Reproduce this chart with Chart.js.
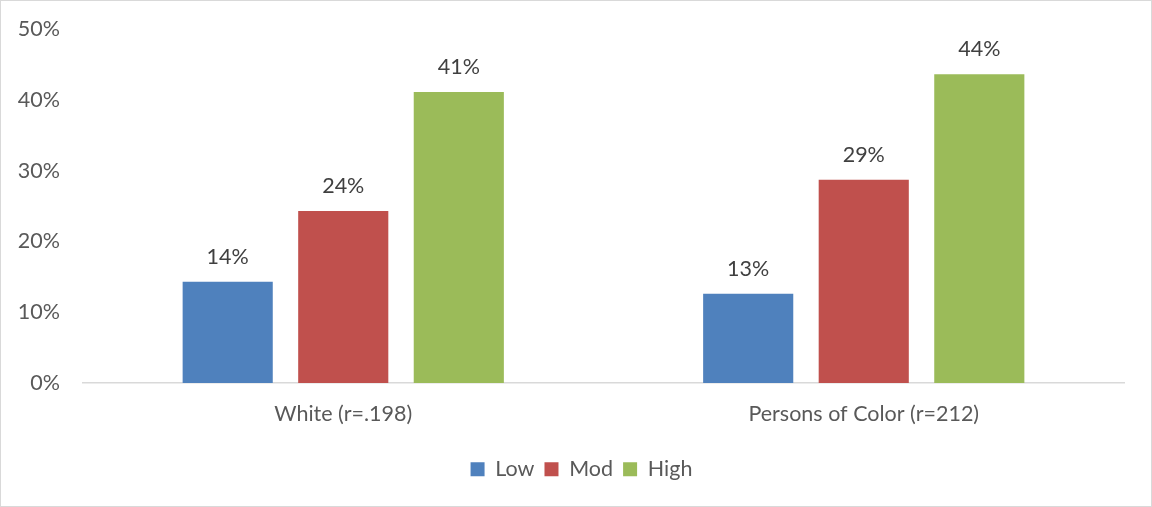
<!DOCTYPE html>
<html>
<head>
<meta charset="utf-8">
<script src="https://cdn.jsdelivr.net/npm/chart.js@4"></script>
<style>
  html, body { margin: 0; padding: 0; background: #fff; }
  #wrap { width: 1152px; height: 507px; box-sizing: border-box; border: 1px solid #d9d9d9; }
</style>
</head>
<body>
<div id="wrap"><canvas id="chart" width="1150" height="505"></canvas></div>
<script>
const categories = ["White (r=.198)", "Persons of Color (r=212)"];
const lowValues = [14.3, 12.6];
const modValues = [24.3, 28.7];
const highValues = [41.1, 43.6];
const yTicks = [0, 10, 20, 30, 40, 50];

const FONT = "Lato, 'Open Sans', sans-serif";
const FONT_SIZE = 21.5;

// value labels above each bar
const barLabels = {
    id: "barLabels",
    afterLayout(chart) {
        // legend sits a little right of centre in the original
        chart.legend.left += 19;
        chart.legend.right += 19;
    },
    afterDatasetsDraw(chart) {
        const ctx = chart.ctx;
        ctx.save();
        ctx.font = FONT_SIZE + "px " + FONT;
        ctx.fillStyle = "#404040";
        ctx.textAlign = "center";
        ctx.textBaseline = "middle";
        chart.data.datasets.forEach((ds, i) => {
            chart.getDatasetMeta(i).data.forEach((bar, j) => {
                ctx.fillText(Math.round(ds.data[j]) + "%", bar.x, bar.y - 25);
            });
        });
        ctx.restore();
    }
};

window.myChart = new Chart(document.getElementById("chart").getContext("2d"), {
    type: "bar",
    data: {
        labels: categories,
        datasets: [
            { label: "Low", data: lowValues, backgroundColor: "#4f81bd" },
            { label: "Mod", data: modValues, backgroundColor: "#c0504d" },
            { label: "High", data: highValues, backgroundColor: "#9bbb59" }
        ]
    },
    options: {
        responsive: false,
        animation: false,
        categoryPercentage: 0.666,
        barPercentage: 0.78,
        layout: { padding: { top: 28, right: 27, bottom: 16, left: 0 } },
        plugins: {
            tooltip: { enabled: false },
            legend: {
                position: "bottom",
                labels: {
                    boxWidth: 14,
                    boxHeight: 14,
                    padding: 10,
                    color: "#595959",
                    font: { family: FONT, size: FONT_SIZE }
                }
            }
        },
        scales: {
            x: {
                grid: { display: false },
                border: { display: true, color: "#d9d9d9", width: 1.5 },
                ticks: { color: "#595959", font: { family: FONT, size: FONT_SIZE }, padding: 10 },
                afterFit: (scale) => { scale.height = 65.5; }
            },
            y: {
                min: 0,
                max: 50,
                afterBuildTicks: (scale) => { scale.ticks = yTicks.map(v => ({ value: v })); },
                grid: { display: false, drawTicks: false },
                border: { display: false },
                ticks: {
                    color: "#595959",
                    font: { family: FONT, size: FONT_SIZE },
                    padding: 23,
                    callback: (v) => v + "%"
                },
                afterFit: (scale) => {
                    scale.width = 82;
                    scale.paddingTop = 0;
                    scale.paddingBottom = 0;
                }
            }
        }
    },
    plugins: [barLabels]
});
</script>
</body>
</html>
